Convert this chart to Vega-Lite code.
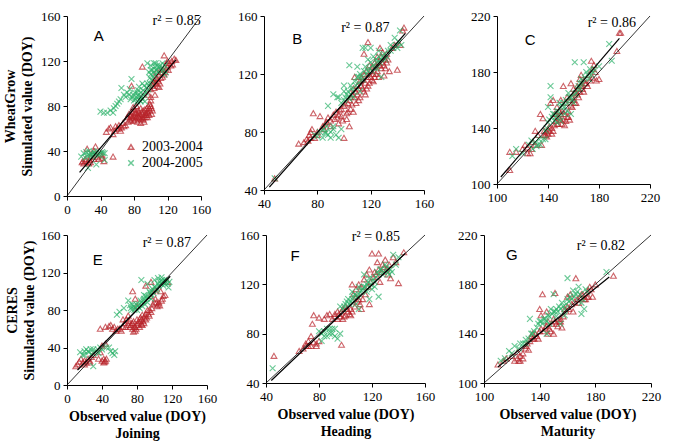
{
"$schema":"https://vega.github.io/schema/vega-lite/v6.json",
"padding":{"left":3,"top":10,"right":5,"bottom":3},
"background":"white",
"datasets":{
"A":[
{"x":18,"y":30,"s":"a"},{"x":20,"y":29,"s":"a"},{"x":22,"y":31,"s":"a"},{"x":24,"y":42,"s":"a"},{"x":25,"y":30,"s":"a"},{"x":27,"y":32,"s":"a"},{"x":28,"y":35,"s":"a"},{"x":30,"y":38,"s":"a"},{"x":32,"y":40,"s":"a"},{"x":34,"y":44,"s":"a"},{"x":36,"y":35,"s":"a"},{"x":38,"y":33,"s":"a"},{"x":40,"y":37,"s":"a"},{"x":42,"y":36,"s":"a"},{"x":44,"y":31,"s":"a"},{"x":22,"y":33,"s":"a"},{"x":26,"y":29,"s":"a"},{"x":19,"y":31,"s":"a"},{"x":55,"y":35,"s":"a"},
{"x":47,"y":57,"s":"a"},{"x":50,"y":60,"s":"a"},{"x":52,"y":61,"s":"a"},{"x":55,"y":55,"s":"a"},{"x":57,"y":58,"s":"a"},{"x":60,"y":60,"s":"a"},{"x":62,"y":63,"s":"a"},{"x":65,"y":61,"s":"a"},{"x":67,"y":65,"s":"a"},{"x":68,"y":62,"s":"a"},{"x":70,"y":63,"s":"a"},
{"x":72,"y":70,"s":"a"},{"x":74,"y":73,"s":"a"},{"x":75,"y":68,"s":"a"},{"x":77,"y":72,"s":"a"},{"x":78,"y":75,"s":"a"},{"x":80,"y":71,"s":"a"},{"x":81,"y":74,"s":"a"},{"x":82,"y":68,"s":"a"},{"x":84,"y":73,"s":"a"},{"x":85,"y":76,"s":"a"},{"x":86,"y":70,"s":"a"},{"x":87,"y":72,"s":"a"},{"x":88,"y":78,"s":"a"},{"x":89,"y":68,"s":"a"},{"x":90,"y":73,"s":"a"},{"x":91,"y":76,"s":"a"},{"x":92,"y":70,"s":"a"},{"x":93,"y":72,"s":"a"},{"x":94,"y":74,"s":"a"},{"x":95,"y":78,"s":"a"},{"x":96,"y":75,"s":"a"},{"x":97,"y":80,"s":"a"},{"x":98,"y":72,"s":"a"},{"x":99,"y":82,"s":"a"},{"x":100,"y":85,"s":"a"},{"x":101,"y":78,"s":"a"},{"x":102,"y":76,"s":"a"},{"x":83,"y":80,"s":"a"},{"x":79,"y":79,"s":"a"},{"x":76,"y":67,"s":"a"},{"x":92,"y":66,"s":"a"},{"x":88,"y":65,"s":"a"},
{"x":97,"y":90,"s":"a"},{"x":100,"y":95,"s":"a"},{"x":102,"y":98,"s":"a"},{"x":104,"y":96,"s":"a"},{"x":105,"y":103,"s":"a"},{"x":106,"y":100,"s":"a"},{"x":108,"y":104,"s":"a"},{"x":110,"y":108,"s":"a"},{"x":112,"y":105,"s":"a"},{"x":113,"y":110,"s":"a"},{"x":115,"y":112,"s":"a"},{"x":116,"y":108,"s":"a"},{"x":118,"y":113,"s":"a"},{"x":120,"y":115,"s":"a"},{"x":122,"y":118,"s":"a"},{"x":125,"y":120,"s":"a"},{"x":128,"y":122,"s":"a"},{"x":130,"y":121,"s":"a"},{"x":116,"y":125,"s":"a"},{"x":110,"y":97,"s":"a"},{"x":105,"y":90,"s":"a"},{"x":103,"y":100,"s":"a"},{"x":107,"y":110,"s":"a"},{"x":90,"y":115,"s":"a"},{"x":77,"y":98,"s":"a"},
{"x":73,"y":66,"s":"a"},{"x":76,"y":71,"s":"a"},{"x":79,"y":69,"s":"a"},{"x":81,"y":77,"s":"a"},{"x":83,"y":70,"s":"a"},{"x":84,"y":66,"s":"a"},{"x":86,"y":74,"s":"a"},{"x":87,"y":69,"s":"a"},{"x":89,"y":75,"s":"a"},{"x":90,"y":70,"s":"a"},{"x":91,"y":68,"s":"a"},{"x":93,"y":77,"s":"a"},{"x":94,"y":70,"s":"a"},{"x":95,"y":72,"s":"a"},{"x":96,"y":70,"s":"a"},{"x":97,"y":74,"s":"a"},{"x":98,"y":78,"s":"a"},{"x":100,"y":80,"s":"a"},{"x":101,"y":73,"s":"a"},{"x":99,"y":76,"s":"a"},{"x":85,"y":71,"s":"a"},{"x":82,"y":74,"s":"a"},{"x":78,"y":70,"s":"a"},{"x":80,"y":67,"s":"a"},{"x":103,"y":102,"s":"a"},{"x":106,"y":105,"s":"a"},{"x":109,"y":102,"s":"a"},{"x":111,"y":100,"s":"a"},{"x":114,"y":106,"s":"a"},{"x":117,"y":110,"s":"a"},{"x":119,"y":118,"s":"a"},{"x":121,"y":112,"s":"a"},{"x":124,"y":116,"s":"a"},{"x":112,"y":113,"s":"a"},{"x":108,"y":98,"s":"a"},{"x":100,"y":88,"s":"a"},{"x":62,"y":60,"s":"a"},{"x":58,"y":62,"s":"a"},{"x":64,"y":58,"s":"a"},{"x":28,"y":30,"s":"a"},{"x":32,"y":33,"s":"a"},{"x":42,"y":34,"s":"a"},{"x":120,"y":120,"s":"a"},{"x":126,"y":117,"s":"a"},
{"x":17,"y":35,"s":"b"},{"x":20,"y":38,"s":"b"},{"x":24,"y":36,"s":"b"},{"x":26,"y":40,"s":"b"},{"x":28,"y":38,"s":"b"},{"x":30,"y":37,"s":"b"},{"x":32,"y":39,"s":"b"},{"x":34,"y":38,"s":"b"},{"x":36,"y":40,"s":"b"},{"x":38,"y":37,"s":"b"},{"x":40,"y":38,"s":"b"},{"x":42,"y":39,"s":"b"},{"x":45,"y":38,"s":"b"},{"x":25,"y":25,"s":"b"},{"x":35,"y":28,"s":"b"},{"x":22,"y":34,"s":"b"},{"x":30,"y":35,"s":"b"},
{"x":40,"y":75,"s":"b"},{"x":44,"y":74,"s":"b"},{"x":48,"y":74,"s":"b"},{"x":52,"y":76,"s":"b"},{"x":56,"y":78,"s":"b"},{"x":60,"y":82,"s":"b"},{"x":62,"y":84,"s":"b"},{"x":65,"y":96,"s":"b"},{"x":68,"y":90,"s":"b"},{"x":70,"y":88,"s":"b"},{"x":72,"y":92,"s":"b"},{"x":75,"y":95,"s":"b"},{"x":77,"y":104,"s":"b"},{"x":78,"y":88,"s":"b"},{"x":80,"y":85,"s":"b"},{"x":82,"y":86,"s":"b"},{"x":84,"y":84,"s":"b"},{"x":85,"y":90,"s":"b"},{"x":86,"y":88,"s":"b"},{"x":88,"y":92,"s":"b"},{"x":90,"y":86,"s":"b"},{"x":92,"y":90,"s":"b"},{"x":93,"y":84,"s":"b"},{"x":95,"y":96,"s":"b"},{"x":96,"y":100,"s":"b"},{"x":98,"y":98,"s":"b"},{"x":99,"y":105,"s":"b"},{"x":100,"y":108,"s":"b"},{"x":102,"y":112,"s":"b"},{"x":104,"y":110,"s":"b"},{"x":105,"y":115,"s":"b"},{"x":106,"y":112,"s":"b"},{"x":108,"y":116,"s":"b"},{"x":110,"y":114,"s":"b"},{"x":112,"y":112,"s":"b"},{"x":114,"y":118,"s":"b"},{"x":116,"y":108,"s":"b"},{"x":118,"y":110,"s":"b"},{"x":96,"y":118,"s":"b"},{"x":100,"y":112,"s":"b"},{"x":86,"y":97,"s":"b"},{"x":90,"y":100,"s":"b"},
{"x":74,"y":90,"s":"b"},{"x":76,"y":86,"s":"b"},{"x":79,"y":90,"s":"b"},{"x":81,"y":92,"s":"b"},{"x":83,"y":88,"s":"b"},{"x":85,"y":94,"s":"b"},{"x":87,"y":85,"s":"b"},{"x":89,"y":88,"s":"b"},{"x":91,"y":94,"s":"b"},{"x":94,"y":92,"s":"b"},{"x":97,"y":95,"s":"b"},{"x":99,"y":100,"s":"b"},{"x":101,"y":103,"s":"b"},{"x":103,"y":106,"s":"b"},{"x":105,"y":108,"s":"b"},{"x":107,"y":112,"s":"b"},{"x":109,"y":110,"s":"b"},{"x":111,"y":116,"s":"b"},{"x":113,"y":114,"s":"b"},{"x":115,"y":112,"s":"b"},{"x":117,"y":116,"s":"b"},{"x":104,"y":118,"s":"b"},{"x":106,"y":118,"s":"b"},{"x":100,"y":116,"s":"b"},{"x":98,"y":110,"s":"b"},{"x":92,"y":98,"s":"b"},{"x":88,"y":84,"s":"b"},{"x":84,"y":92,"s":"b"},{"x":27,"y":36,"s":"b"},{"x":33,"y":37,"s":"b"},{"x":37,"y":36,"s":"b"},{"x":43,"y":38,"s":"b"},{"x":23,"y":39,"s":"b"},{"x":45,"y":32,"s":"b"},{"x":55,"y":74,"s":"b"},{"x":58,"y":80,"s":"b"},{"x":64,"y":86,"s":"b"}
],
"B":[
{"x":48,"y":48,"s":"a"},{"x":66,"y":72,"s":"a"},{"x":70,"y":73,"s":"a"},{"x":72,"y":75,"s":"a"},{"x":74,"y":78,"s":"a"},{"x":75,"y":80,"s":"a"},{"x":76,"y":82,"s":"a"},{"x":77,"y":93,"s":"a"},{"x":78,"y":76,"s":"a"},{"x":80,"y":78,"s":"a"},{"x":82,"y":91,"s":"a"},{"x":85,"y":82,"s":"a"},{"x":87,"y":87,"s":"a"},{"x":88,"y":90,"s":"a"},{"x":90,"y":84,"s":"a"},{"x":92,"y":92,"s":"a"},{"x":93,"y":89,"s":"a"},{"x":95,"y":90,"s":"a"},{"x":96,"y":86,"s":"a"},{"x":97,"y":95,"s":"a"},{"x":98,"y":96,"s":"a"},{"x":99,"y":88,"s":"a"},{"x":100,"y":98,"s":"a"},{"x":100,"y":76,"s":"a"},{"x":102,"y":93,"s":"a"},{"x":103,"y":100,"s":"a"},{"x":104,"y":102,"s":"a"},{"x":105,"y":96,"s":"a"},{"x":106,"y":106,"s":"a"},{"x":107,"y":94,"s":"a"},{"x":108,"y":104,"s":"a"},{"x":109,"y":108,"s":"a"},{"x":110,"y":112,"s":"a"},{"x":111,"y":102,"s":"a"},{"x":112,"y":115,"s":"a"},{"x":113,"y":118,"s":"a"},{"x":114,"y":110,"s":"a"},{"x":115,"y":120,"s":"a"},{"x":116,"y":106,"s":"a"},{"x":117,"y":122,"s":"a"},{"x":118,"y":112,"s":"a"},{"x":119,"y":126,"s":"a"},{"x":120,"y":118,"s":"a"},{"x":121,"y":125,"s":"a"},{"x":122,"y":115,"s":"a"},{"x":123,"y":128,"s":"a"},{"x":124,"y":120,"s":"a"},{"x":125,"y":132,"s":"a"},{"x":126,"y":118,"s":"a"},{"x":127,"y":138,"s":"a"},{"x":128,"y":124,"s":"a"},{"x":129,"y":135,"s":"a"},{"x":130,"y":119,"s":"a"},{"x":131,"y":130,"s":"a"},{"x":132,"y":128,"s":"a"},{"x":134,"y":122,"s":"a"},{"x":136,"y":138,"s":"a"},{"x":138,"y":140,"s":"a"},{"x":140,"y":123,"s":"a"},{"x":142,"y":140,"s":"a"},{"x":144,"y":150,"s":"a"},{"x":145,"y":152,"s":"a"},{"x":118,"y":142,"s":"a"},{"x":115,"y":134,"s":"a"},{"x":108,"y":118,"s":"a"},{"x":104,"y":84,"s":"a"},
{"x":101,"y":99,"s":"a"},{"x":103,"y":94,"s":"a"},{"x":105,"y":104,"s":"a"},{"x":106,"y":99,"s":"a"},{"x":107,"y":110,"s":"a"},{"x":109,"y":100,"s":"a"},{"x":110,"y":106,"s":"a"},{"x":111,"y":110,"s":"a"},{"x":112,"y":104,"s":"a"},{"x":113,"y":112,"s":"a"},{"x":114,"y":116,"s":"a"},{"x":115,"y":108,"s":"a"},{"x":116,"y":114,"s":"a"},{"x":117,"y":110,"s":"a"},{"x":118,"y":118,"s":"a"},{"x":119,"y":114,"s":"a"},{"x":120,"y":122,"s":"a"},{"x":121,"y":116,"s":"a"},{"x":122,"y":120,"s":"a"},{"x":123,"y":118,"s":"a"},{"x":124,"y":126,"s":"a"},{"x":125,"y":122,"s":"a"},{"x":126,"y":128,"s":"a"},{"x":127,"y":126,"s":"a"},{"x":128,"y":132,"s":"a"},{"x":129,"y":128,"s":"a"},{"x":130,"y":126,"s":"a"},{"x":131,"y":124,"s":"a"},{"x":132,"y":134,"s":"a"},{"x":133,"y":130,"s":"a"},{"x":96,"y":92,"s":"a"},{"x":94,"y":94,"s":"a"},{"x":90,"y":88,"s":"a"},{"x":86,"y":86,"s":"a"},{"x":84,"y":84,"s":"a"},{"x":80,"y":80,"s":"a"},{"x":75,"y":76,"s":"a"},{"x":73,"y":74,"s":"a"},{"x":98,"y":91,"s":"a"},{"x":102,"y":89,"s":"a"},
{"x":48,"y":48,"s":"b"},{"x":78,"y":78,"s":"b"},{"x":80,"y":77,"s":"b"},{"x":82,"y":80,"s":"b"},{"x":84,"y":76,"s":"b"},{"x":85,"y":82,"s":"b"},{"x":86,"y":79,"s":"b"},{"x":88,"y":78,"s":"b"},{"x":90,"y":80,"s":"b"},{"x":92,"y":84,"s":"b"},{"x":94,"y":78,"s":"b"},{"x":96,"y":76,"s":"b"},{"x":98,"y":82,"s":"b"},{"x":88,"y":98,"s":"b"},{"x":92,"y":106,"s":"b"},{"x":95,"y":104,"s":"b"},{"x":98,"y":100,"s":"b"},{"x":100,"y":108,"s":"b"},{"x":102,"y":106,"s":"b"},{"x":104,"y":103,"s":"b"},{"x":105,"y":112,"s":"b"},{"x":106,"y":110,"s":"b"},{"x":108,"y":115,"s":"b"},{"x":110,"y":118,"s":"b"},{"x":112,"y":120,"s":"b"},{"x":114,"y":116,"s":"b"},{"x":116,"y":125,"s":"b"},{"x":118,"y":122,"s":"b"},{"x":120,"y":128,"s":"b"},{"x":122,"y":126,"s":"b"},{"x":124,"y":130,"s":"b"},{"x":125,"y":124,"s":"b"},{"x":126,"y":132,"s":"b"},{"x":128,"y":130,"s":"b"},{"x":130,"y":134,"s":"b"},{"x":132,"y":132,"s":"b"},{"x":114,"y":138,"s":"b"},{"x":116,"y":138,"s":"b"},{"x":120,"y":138,"s":"b"},{"x":104,"y":126,"s":"b"},{"x":135,"y":140,"s":"b"},{"x":138,"y":145,"s":"b"},{"x":140,"y":138,"s":"b"},{"x":142,"y":150,"s":"b"},{"x":128,"y":118,"s":"b"},{"x":110,"y":125,"s":"b"},{"x":100,"y":112,"s":"b"},{"x":112,"y":108,"s":"b"},
{"x":101,"y":104,"s":"b"},{"x":103,"y":108,"s":"b"},{"x":105,"y":106,"s":"b"},{"x":107,"y":108,"s":"b"},{"x":109,"y":112,"s":"b"},{"x":111,"y":114,"s":"b"},{"x":113,"y":118,"s":"b"},{"x":115,"y":122,"s":"b"},{"x":117,"y":120,"s":"b"},{"x":119,"y":124,"s":"b"},{"x":121,"y":122,"s":"b"},{"x":123,"y":124,"s":"b"},{"x":125,"y":128,"s":"b"},{"x":127,"y":128,"s":"b"},{"x":129,"y":132,"s":"b"},{"x":131,"y":130,"s":"b"},{"x":133,"y":136,"s":"b"},{"x":135,"y":136,"s":"b"},{"x":137,"y":138,"s":"b"},{"x":139,"y":140,"s":"b"},{"x":141,"y":142,"s":"b"},{"x":143,"y":140,"s":"b"},{"x":107,"y":104,"s":"b"},{"x":111,"y":118,"s":"b"},{"x":118,"y":130,"s":"b"},{"x":122,"y":132,"s":"b"},{"x":126,"y":136,"s":"b"},{"x":86,"y":80,"s":"b"},{"x":90,"y":76,"s":"b"},{"x":92,"y":82,"s":"b"},{"x":87,"y":84,"s":"b"},{"x":96,"y":104,"s":"b"},{"x":100,"y":102,"s":"b"}
],
"C":[
{"x":110,"y":110,"s":"a"},{"x":110,"y":123,"s":"a"},{"x":115,"y":123,"s":"a"},{"x":120,"y":125,"s":"a"},{"x":122,"y":128,"s":"a"},{"x":124,"y":122,"s":"a"},{"x":126,"y":122,"s":"a"},{"x":128,"y":130,"s":"a"},{"x":130,"y":128,"s":"a"},{"x":132,"y":135,"s":"a"},{"x":134,"y":150,"s":"a"},{"x":135,"y":128,"s":"a"},{"x":136,"y":147,"s":"a"},{"x":137,"y":138,"s":"a"},{"x":138,"y":135,"s":"a"},{"x":139,"y":137,"s":"a"},{"x":140,"y":136,"s":"a"},{"x":141,"y":141,"s":"a"},{"x":142,"y":158,"s":"a"},{"x":143,"y":140,"s":"a"},{"x":144,"y":160,"s":"a"},{"x":145,"y":150,"s":"a"},{"x":146,"y":145,"s":"a"},{"x":147,"y":155,"s":"a"},{"x":148,"y":143,"s":"a"},{"x":149,"y":147,"s":"a"},{"x":150,"y":150,"s":"a"},{"x":151,"y":152,"s":"a"},{"x":152,"y":170,"s":"a"},{"x":153,"y":142,"s":"a"},{"x":154,"y":158,"s":"a"},{"x":155,"y":162,"s":"a"},{"x":156,"y":148,"s":"a"},{"x":157,"y":146,"s":"a"},{"x":158,"y":172,"s":"a"},{"x":159,"y":155,"s":"a"},{"x":160,"y":168,"s":"a"},{"x":161,"y":165,"s":"a"},{"x":162,"y":158,"s":"a"},{"x":163,"y":170,"s":"a"},{"x":164,"y":168,"s":"a"},{"x":165,"y":175,"s":"a"},{"x":166,"y":178,"s":"a"},{"x":167,"y":170,"s":"a"},{"x":168,"y":174,"s":"a"},{"x":170,"y":172,"s":"a"},{"x":172,"y":178,"s":"a"},{"x":174,"y":188,"s":"a"},{"x":175,"y":176,"s":"a"},{"x":176,"y":185,"s":"a"},{"x":178,"y":174,"s":"a"},{"x":180,"y":175,"s":"a"},{"x":194,"y":195,"s":"a"},{"x":196,"y":208,"s":"a"},{"x":197,"y":208,"s":"a"},{"x":130,"y":138,"s":"a"},{"x":150,"y":160,"s":"a"},
{"x":141,"y":138,"s":"a"},{"x":143,"y":136,"s":"a"},{"x":144,"y":138,"s":"a"},{"x":145,"y":142,"s":"a"},{"x":146,"y":150,"s":"a"},{"x":147,"y":143,"s":"a"},{"x":148,"y":148,"s":"a"},{"x":149,"y":152,"s":"a"},{"x":150,"y":146,"s":"a"},{"x":151,"y":143,"s":"a"},{"x":152,"y":146,"s":"a"},{"x":153,"y":150,"s":"a"},{"x":154,"y":145,"s":"a"},{"x":155,"y":148,"s":"a"},{"x":156,"y":152,"s":"a"},{"x":157,"y":160,"s":"a"},{"x":158,"y":156,"s":"a"},{"x":159,"y":162,"s":"a"},{"x":160,"y":160,"s":"a"},{"x":161,"y":158,"s":"a"},{"x":162,"y":166,"s":"a"},{"x":163,"y":164,"s":"a"},{"x":164,"y":162,"s":"a"},{"x":165,"y":166,"s":"a"},{"x":166,"y":170,"s":"a"},{"x":167,"y":168,"s":"a"},{"x":168,"y":166,"s":"a"},{"x":169,"y":172,"s":"a"},{"x":171,"y":170,"s":"a"},{"x":173,"y":174,"s":"a"},{"x":175,"y":182,"s":"a"},{"x":177,"y":180,"s":"a"},{"x":124,"y":126,"s":"a"},{"x":127,"y":125,"s":"a"},{"x":139,"y":134,"s":"a"},{"x":137,"y":135,"s":"a"},{"x":140,"y":139,"s":"a"},
{"x":112,"y":120,"s":"b"},{"x":115,"y":125,"s":"b"},{"x":125,"y":128,"s":"b"},{"x":128,"y":125,"s":"b"},{"x":130,"y":130,"s":"b"},{"x":132,"y":128,"s":"b"},{"x":134,"y":128,"s":"b"},{"x":136,"y":132,"s":"b"},{"x":138,"y":138,"s":"b"},{"x":140,"y":144,"s":"b"},{"x":142,"y":170,"s":"b"},{"x":142,"y":162,"s":"b"},{"x":140,"y":155,"s":"b"},{"x":144,"y":150,"s":"b"},{"x":145,"y":145,"s":"b"},{"x":146,"y":148,"s":"b"},{"x":148,"y":152,"s":"b"},{"x":150,"y":155,"s":"b"},{"x":152,"y":158,"s":"b"},{"x":154,"y":160,"s":"b"},{"x":155,"y":152,"s":"b"},{"x":156,"y":165,"s":"b"},{"x":158,"y":162,"s":"b"},{"x":160,"y":158,"s":"b"},{"x":161,"y":187,"s":"b"},{"x":162,"y":165,"s":"b"},{"x":164,"y":170,"s":"b"},{"x":165,"y":168,"s":"b"},{"x":166,"y":175,"s":"b"},{"x":168,"y":187,"s":"b"},{"x":170,"y":180,"s":"b"},{"x":172,"y":175,"s":"b"},{"x":174,"y":178,"s":"b"},{"x":176,"y":182,"s":"b"},{"x":180,"y":184,"s":"b"},{"x":188,"y":200,"s":"b"},{"x":190,"y":188,"s":"b"},{"x":150,"y":145,"s":"b"},{"x":158,"y":150,"s":"b"},
{"x":138,"y":132,"s":"b"},{"x":139,"y":140,"s":"b"},{"x":141,"y":146,"s":"b"},{"x":143,"y":148,"s":"b"},{"x":145,"y":150,"s":"b"},{"x":147,"y":152,"s":"b"},{"x":149,"y":148,"s":"b"},{"x":151,"y":156,"s":"b"},{"x":153,"y":155,"s":"b"},{"x":155,"y":158,"s":"b"},{"x":157,"y":162,"s":"b"},{"x":159,"y":160,"s":"b"},{"x":161,"y":164,"s":"b"},{"x":163,"y":168,"s":"b"},{"x":165,"y":172,"s":"b"},{"x":167,"y":172,"s":"b"},{"x":169,"y":176,"s":"b"},{"x":171,"y":178,"s":"b"},{"x":173,"y":182,"s":"b"},{"x":175,"y":180,"s":"b"},{"x":149,"y":158,"s":"b"},{"x":147,"y":144,"s":"b"},{"x":153,"y":150,"s":"b"},{"x":131,"y":127,"s":"b"},{"x":133,"y":132,"s":"b"},{"x":120,"y":122,"s":"b"},{"x":127,"y":131,"s":"b"}
],
"E":[
{"x":10,"y":20,"s":"a"},{"x":12,"y":22,"s":"a"},{"x":14,"y":25,"s":"a"},{"x":16,"y":28,"s":"a"},{"x":18,"y":24,"s":"a"},{"x":20,"y":26,"s":"a"},{"x":22,"y":24,"s":"a"},{"x":24,"y":28,"s":"a"},{"x":26,"y":26,"s":"a"},{"x":28,"y":30,"s":"a"},{"x":30,"y":32,"s":"a"},{"x":36,"y":28,"s":"a"},{"x":38,"y":35,"s":"a"},{"x":40,"y":26,"s":"a"},{"x":42,"y":24,"s":"a"},{"x":44,"y":26,"s":"a"},{"x":45,"y":28,"s":"a"},{"x":40,"y":42,"s":"a"},{"x":44,"y":44,"s":"a"},{"x":38,"y":60,"s":"a"},{"x":44,"y":62,"s":"a"},{"x":50,"y":64,"s":"a"},{"x":54,"y":62,"s":"a"},{"x":56,"y":58,"s":"a"},{"x":60,"y":60,"s":"a"},{"x":62,"y":58,"s":"a"},{"x":64,"y":62,"s":"a"},{"x":66,"y":66,"s":"a"},{"x":68,"y":70,"s":"a"},{"x":70,"y":64,"s":"a"},{"x":72,"y":62,"s":"a"},{"x":74,"y":66,"s":"a"},{"x":75,"y":60,"s":"a"},{"x":76,"y":68,"s":"a"},{"x":78,"y":62,"s":"a"},{"x":80,"y":70,"s":"a"},{"x":82,"y":68,"s":"a"},{"x":84,"y":72,"s":"a"},{"x":85,"y":65,"s":"a"},{"x":86,"y":75,"s":"a"},{"x":88,"y":72,"s":"a"},{"x":90,"y":76,"s":"a"},{"x":92,"y":80,"s":"a"},{"x":94,"y":74,"s":"a"},{"x":95,"y":95,"s":"a"},{"x":96,"y":110,"s":"a"},{"x":98,"y":100,"s":"a"},{"x":100,"y":102,"s":"a"},{"x":102,"y":88,"s":"a"},{"x":104,"y":86,"s":"a"},{"x":106,"y":85,"s":"a"},{"x":108,"y":90,"s":"a"},{"x":110,"y":95,"s":"a"},{"x":75,"y":100,"s":"a"},{"x":78,"y":92,"s":"a"},{"x":80,"y":84,"s":"a"},{"x":90,"y":106,"s":"a"},{"x":115,"y":110,"s":"a"},{"x":112,"y":96,"s":"a"},{"x":70,"y":74,"s":"a"},{"x":64,"y":70,"s":"a"},
{"x":73,"y":64,"s":"a"},{"x":75,"y":66,"s":"a"},{"x":77,"y":62,"s":"a"},{"x":79,"y":60,"s":"a"},{"x":80,"y":64,"s":"a"},{"x":81,"y":66,"s":"a"},{"x":83,"y":62,"s":"a"},{"x":84,"y":68,"s":"a"},{"x":85,"y":70,"s":"a"},{"x":86,"y":64,"s":"a"},{"x":87,"y":68,"s":"a"},{"x":88,"y":66,"s":"a"},{"x":89,"y":74,"s":"a"},{"x":90,"y":70,"s":"a"},{"x":91,"y":72,"s":"a"},{"x":93,"y":76,"s":"a"},{"x":94,"y":80,"s":"a"},{"x":96,"y":78,"s":"a"},{"x":97,"y":82,"s":"a"},{"x":98,"y":86,"s":"a"},{"x":100,"y":88,"s":"a"},{"x":101,"y":92,"s":"a"},{"x":103,"y":84,"s":"a"},{"x":105,"y":88,"s":"a"},{"x":107,"y":100,"s":"a"},{"x":109,"y":92,"s":"a"},{"x":76,"y":57,"s":"a"},{"x":78,"y":58,"s":"a"},{"x":71,"y":68,"s":"a"},{"x":67,"y":62,"s":"a"},{"x":58,"y":60,"s":"a"},{"x":52,"y":60,"s":"a"},{"x":48,"y":63,"s":"a"},{"x":20,"y":22,"s":"a"},{"x":26,"y":24,"s":"a"},{"x":42,"y":28,"s":"a"},{"x":43,"y":25,"s":"a"},
{"x":15,"y":35,"s":"b"},{"x":18,"y":32,"s":"b"},{"x":20,"y":36,"s":"b"},{"x":22,"y":38,"s":"b"},{"x":25,"y":35,"s":"b"},{"x":28,"y":33,"s":"b"},{"x":30,"y":20,"s":"b"},{"x":30,"y":38,"s":"b"},{"x":34,"y":36,"s":"b"},{"x":36,"y":34,"s":"b"},{"x":38,"y":40,"s":"b"},{"x":40,"y":38,"s":"b"},{"x":48,"y":40,"s":"b"},{"x":50,"y":36,"s":"b"},{"x":52,"y":34,"s":"b"},{"x":55,"y":36,"s":"b"},{"x":57,"y":75,"s":"b"},{"x":60,"y":78,"s":"b"},{"x":65,"y":82,"s":"b"},{"x":70,"y":90,"s":"b"},{"x":72,"y":85,"s":"b"},{"x":74,"y":80,"s":"b"},{"x":76,"y":84,"s":"b"},{"x":78,"y":82,"s":"b"},{"x":80,"y":80,"s":"b"},{"x":82,"y":86,"s":"b"},{"x":84,"y":90,"s":"b"},{"x":85,"y":112,"s":"b"},{"x":86,"y":84,"s":"b"},{"x":88,"y":92,"s":"b"},{"x":90,"y":95,"s":"b"},{"x":92,"y":88,"s":"b"},{"x":94,"y":100,"s":"b"},{"x":96,"y":96,"s":"b"},{"x":98,"y":102,"s":"b"},{"x":100,"y":105,"s":"b"},{"x":102,"y":100,"s":"b"},{"x":104,"y":108,"s":"b"},{"x":106,"y":110,"s":"b"},{"x":108,"y":112,"s":"b"},{"x":110,"y":106,"s":"b"},{"x":112,"y":108,"s":"b"},{"x":114,"y":112,"s":"b"},{"x":116,"y":104,"s":"b"},{"x":92,"y":108,"s":"b"},{"x":100,"y":112,"s":"b"},
{"x":73,"y":82,"s":"b"},{"x":75,"y":86,"s":"b"},{"x":77,"y":80,"s":"b"},{"x":79,"y":86,"s":"b"},{"x":81,"y":84,"s":"b"},{"x":83,"y":82,"s":"b"},{"x":85,"y":88,"s":"b"},{"x":87,"y":90,"s":"b"},{"x":89,"y":86,"s":"b"},{"x":91,"y":92,"s":"b"},{"x":93,"y":94,"s":"b"},{"x":95,"y":98,"s":"b"},{"x":97,"y":100,"s":"b"},{"x":99,"y":98,"s":"b"},{"x":101,"y":104,"s":"b"},{"x":103,"y":102,"s":"b"},{"x":105,"y":106,"s":"b"},{"x":107,"y":108,"s":"b"},{"x":109,"y":110,"s":"b"},{"x":111,"y":112,"s":"b"},{"x":113,"y":110,"s":"b"},{"x":115,"y":108,"s":"b"},{"x":117,"y":110,"s":"b"},{"x":104,"y":114,"s":"b"},{"x":108,"y":115,"s":"b"},{"x":96,"y":92,"s":"b"},{"x":88,"y":96,"s":"b"},{"x":20,"y":32,"s":"b"},{"x":24,"y":36,"s":"b"},{"x":27,"y":38,"s":"b"},{"x":32,"y":35,"s":"b"},{"x":35,"y":38,"s":"b"},{"x":45,"y":40,"s":"b"},{"x":54,"y":32,"s":"b"}
],
"F":[
{"x":46,"y":62,"s":"a"},{"x":65,"y":66,"s":"a"},{"x":68,"y":68,"s":"a"},{"x":70,"y":72,"s":"a"},{"x":72,"y":70,"s":"a"},{"x":74,"y":78,"s":"a"},{"x":75,"y":88,"s":"a"},{"x":76,"y":95,"s":"a"},{"x":78,"y":72,"s":"a"},{"x":80,"y":74,"s":"a"},{"x":80,"y":93,"s":"a"},{"x":84,"y":92,"s":"a"},{"x":86,"y":95,"s":"a"},{"x":88,"y":96,"s":"a"},{"x":90,"y":92,"s":"a"},{"x":92,"y":96,"s":"a"},{"x":94,"y":98,"s":"a"},{"x":96,"y":94,"s":"a"},{"x":97,"y":71,"s":"a"},{"x":98,"y":100,"s":"a"},{"x":100,"y":102,"s":"a"},{"x":102,"y":98,"s":"a"},{"x":104,"y":100,"s":"a"},{"x":106,"y":112,"s":"a"},{"x":108,"y":110,"s":"a"},{"x":110,"y":108,"s":"a"},{"x":112,"y":118,"s":"a"},{"x":114,"y":124,"s":"a"},{"x":116,"y":128,"s":"a"},{"x":118,"y":132,"s":"a"},{"x":120,"y":145,"s":"a"},{"x":122,"y":130,"s":"a"},{"x":124,"y":138,"s":"a"},{"x":125,"y":145,"s":"a"},{"x":126,"y":122,"s":"a"},{"x":128,"y":136,"s":"a"},{"x":130,"y":140,"s":"a"},{"x":132,"y":128,"s":"a"},{"x":134,"y":125,"s":"a"},{"x":136,"y":142,"s":"a"},{"x":138,"y":138,"s":"a"},{"x":140,"y":121,"s":"a"},{"x":144,"y":146,"s":"a"},{"x":118,"y":104,"s":"a"},{"x":112,"y":100,"s":"a"},{"x":100,"y":95,"s":"a"},{"x":105,"y":120,"s":"a"},
{"x":95,"y":96,"s":"a"},{"x":97,"y":98,"s":"a"},{"x":99,"y":94,"s":"a"},{"x":101,"y":100,"s":"a"},{"x":103,"y":96,"s":"a"},{"x":105,"y":98,"s":"a"},{"x":107,"y":102,"s":"a"},{"x":109,"y":106,"s":"a"},{"x":111,"y":104,"s":"a"},{"x":113,"y":108,"s":"a"},{"x":115,"y":112,"s":"a"},{"x":117,"y":118,"s":"a"},{"x":119,"y":122,"s":"a"},{"x":121,"y":126,"s":"a"},{"x":123,"y":128,"s":"a"},{"x":125,"y":132,"s":"a"},{"x":127,"y":130,"s":"a"},{"x":129,"y":134,"s":"a"},{"x":131,"y":132,"s":"a"},{"x":133,"y":136,"s":"a"},{"x":108,"y":116,"s":"a"},{"x":110,"y":120,"s":"a"},{"x":104,"y":95,"s":"a"},{"x":98,"y":92,"s":"a"},{"x":94,"y":92,"s":"a"},{"x":92,"y":94,"s":"a"},{"x":70,"y":70,"s":"a"},{"x":72,"y":74,"s":"a"},{"x":74,"y":70,"s":"a"},{"x":76,"y":73,"s":"a"},{"x":78,"y":70,"s":"a"},
{"x":45,"y":52,"s":"b"},{"x":80,"y":82,"s":"b"},{"x":82,"y":74,"s":"b"},{"x":84,"y":78,"s":"b"},{"x":86,"y":84,"s":"b"},{"x":88,"y":80,"s":"b"},{"x":90,"y":84,"s":"b"},{"x":92,"y":78,"s":"b"},{"x":94,"y":76,"s":"b"},{"x":96,"y":80,"s":"b"},{"x":98,"y":100,"s":"b"},{"x":100,"y":104,"s":"b"},{"x":102,"y":108,"s":"b"},{"x":104,"y":106,"s":"b"},{"x":106,"y":110,"s":"b"},{"x":108,"y":104,"s":"b"},{"x":110,"y":112,"s":"b"},{"x":112,"y":115,"s":"b"},{"x":114,"y":118,"s":"b"},{"x":116,"y":120,"s":"b"},{"x":118,"y":125,"s":"b"},{"x":120,"y":116,"s":"b"},{"x":122,"y":122,"s":"b"},{"x":124,"y":130,"s":"b"},{"x":126,"y":132,"s":"b"},{"x":128,"y":128,"s":"b"},{"x":130,"y":136,"s":"b"},{"x":132,"y":130,"s":"b"},{"x":134,"y":132,"s":"b"},{"x":136,"y":144,"s":"b"},{"x":140,"y":142,"s":"b"},{"x":125,"y":110,"s":"b"},{"x":118,"y":108,"s":"b"},{"x":110,"y":100,"s":"b"},{"x":96,"y":102,"s":"b"},{"x":114,"y":128,"s":"b"},
{"x":99,"y":102,"s":"b"},{"x":101,"y":106,"s":"b"},{"x":103,"y":104,"s":"b"},{"x":105,"y":108,"s":"b"},{"x":107,"y":112,"s":"b"},{"x":109,"y":110,"s":"b"},{"x":111,"y":114,"s":"b"},{"x":113,"y":116,"s":"b"},{"x":115,"y":118,"s":"b"},{"x":117,"y":122,"s":"b"},{"x":119,"y":120,"s":"b"},{"x":121,"y":124,"s":"b"},{"x":123,"y":126,"s":"b"},{"x":125,"y":128,"s":"b"},{"x":127,"y":132,"s":"b"},{"x":129,"y":130,"s":"b"},{"x":131,"y":134,"s":"b"},{"x":133,"y":128,"s":"b"},{"x":135,"y":130,"s":"b"},{"x":138,"y":136,"s":"b"},{"x":105,"y":114,"s":"b"},{"x":110,"y":118,"s":"b"},{"x":116,"y":114,"s":"b"},{"x":122,"y":118,"s":"b"},{"x":86,"y":78,"s":"b"},{"x":88,"y":84,"s":"b"},{"x":90,"y":80,"s":"b"},{"x":84,"y":82,"s":"b"},{"x":92,"y":84,"s":"b"},{"x":82,"y":80,"s":"b"}
],
"G":[
{"x":110,"y":115,"s":"a"},{"x":114,"y":118,"s":"a"},{"x":116,"y":120,"s":"a"},{"x":120,"y":122,"s":"a"},{"x":122,"y":118,"s":"a"},{"x":124,"y":125,"s":"a"},{"x":125,"y":118,"s":"a"},{"x":126,"y":122,"s":"a"},{"x":128,"y":120,"s":"a"},{"x":130,"y":128,"s":"a"},{"x":132,"y":127,"s":"a"},{"x":134,"y":138,"s":"a"},{"x":135,"y":140,"s":"a"},{"x":136,"y":136,"s":"a"},{"x":138,"y":138,"s":"a"},{"x":140,"y":142,"s":"a"},{"x":141,"y":155,"s":"a"},{"x":142,"y":172,"s":"a"},{"x":144,"y":145,"s":"a"},{"x":145,"y":158,"s":"a"},{"x":146,"y":140,"s":"a"},{"x":148,"y":142,"s":"a"},{"x":150,"y":140,"s":"a"},{"x":151,"y":173,"s":"a"},{"x":152,"y":148,"s":"a"},{"x":154,"y":150,"s":"a"},{"x":155,"y":152,"s":"a"},{"x":156,"y":145,"s":"a"},{"x":158,"y":160,"s":"a"},{"x":160,"y":162,"s":"a"},{"x":162,"y":172,"s":"a"},{"x":164,"y":158,"s":"a"},{"x":166,"y":185,"s":"a"},{"x":168,"y":165,"s":"a"},{"x":170,"y":172,"s":"a"},{"x":172,"y":168,"s":"a"},{"x":174,"y":170,"s":"a"},{"x":175,"y":175,"s":"a"},{"x":176,"y":178,"s":"a"},{"x":178,"y":170,"s":"a"},{"x":180,"y":180,"s":"a"},{"x":193,"y":187,"s":"a"},{"x":130,"y":130,"s":"a"},{"x":140,"y":160,"s":"a"},
{"x":131,"y":132,"s":"a"},{"x":133,"y":134,"s":"a"},{"x":135,"y":136,"s":"a"},{"x":137,"y":140,"s":"a"},{"x":139,"y":136,"s":"a"},{"x":141,"y":144,"s":"a"},{"x":143,"y":142,"s":"a"},{"x":145,"y":146,"s":"a"},{"x":147,"y":144,"s":"a"},{"x":149,"y":148,"s":"a"},{"x":151,"y":150,"s":"a"},{"x":153,"y":146,"s":"a"},{"x":155,"y":150,"s":"a"},{"x":157,"y":154,"s":"a"},{"x":159,"y":158,"s":"a"},{"x":161,"y":160,"s":"a"},{"x":163,"y":164,"s":"a"},{"x":165,"y":166,"s":"a"},{"x":167,"y":168,"s":"a"},{"x":169,"y":170,"s":"a"},{"x":171,"y":172,"s":"a"},{"x":173,"y":168,"s":"a"},{"x":175,"y":170,"s":"a"},{"x":177,"y":176,"s":"a"},{"x":124,"y":120,"s":"a"},{"x":126,"y":118,"s":"a"},{"x":128,"y":124,"s":"a"},{"x":146,"y":150,"s":"a"},{"x":150,"y":152,"s":"a"},{"x":160,"y":170,"s":"a"},
{"x":112,"y":118,"s":"b"},{"x":118,"y":126,"s":"b"},{"x":122,"y":130,"s":"b"},{"x":125,"y":128,"s":"b"},{"x":128,"y":132,"s":"b"},{"x":130,"y":135,"s":"b"},{"x":133,"y":152,"s":"b"},{"x":135,"y":140,"s":"b"},{"x":138,"y":145,"s":"b"},{"x":140,"y":150,"s":"b"},{"x":142,"y":148,"s":"b"},{"x":144,"y":152,"s":"b"},{"x":146,"y":155,"s":"b"},{"x":148,"y":160,"s":"b"},{"x":150,"y":158,"s":"b"},{"x":152,"y":160,"s":"b"},{"x":154,"y":162,"s":"b"},{"x":156,"y":165,"s":"b"},{"x":158,"y":160,"s":"b"},{"x":160,"y":185,"s":"b"},{"x":160,"y":168,"s":"b"},{"x":162,"y":170,"s":"b"},{"x":164,"y":175,"s":"b"},{"x":166,"y":172,"s":"b"},{"x":168,"y":178,"s":"b"},{"x":170,"y":165,"s":"b"},{"x":170,"y":156,"s":"b"},{"x":172,"y":160,"s":"b"},{"x":174,"y":174,"s":"b"},{"x":188,"y":190,"s":"b"},{"x":150,"y":172,"s":"b"},{"x":145,"y":140,"s":"b"},{"x":155,"y":148,"s":"b"},
{"x":126,"y":132,"s":"b"},{"x":130,"y":132,"s":"b"},{"x":132,"y":136,"s":"b"},{"x":134,"y":140,"s":"b"},{"x":136,"y":142,"s":"b"},{"x":139,"y":148,"s":"b"},{"x":141,"y":150,"s":"b"},{"x":143,"y":152,"s":"b"},{"x":145,"y":150,"s":"b"},{"x":147,"y":154,"s":"b"},{"x":149,"y":156,"s":"b"},{"x":151,"y":158,"s":"b"},{"x":153,"y":158,"s":"b"},{"x":155,"y":160,"s":"b"},{"x":157,"y":162,"s":"b"},{"x":159,"y":164,"s":"b"},{"x":161,"y":166,"s":"b"},{"x":163,"y":168,"s":"b"},{"x":165,"y":170,"s":"b"},{"x":167,"y":174,"s":"b"},{"x":169,"y":172,"s":"b"},{"x":171,"y":168,"s":"b"},{"x":173,"y":176,"s":"b"},{"x":147,"y":148,"s":"b"},{"x":152,"y":154,"s":"b"},{"x":158,"y":155,"s":"b"},{"x":120,"y":124,"s":"b"},{"x":115,"y":120,"s":"b"}
],
"L":[
{"p":"A","x":0,"y":0,"x2":160,"y2":160,"w":0.8},{"p":"A","x":15,"y":21,"x2":130,"y2":121,"w":1.2},
{"p":"B","x":40,"y":40,"x2":160,"y2":160,"w":0.8},{"p":"B","x":44,"y":42,"x2":146,"y2":148,"w":1.3},
{"p":"C","x":100,"y":100,"x2":220,"y2":220,"w":0.8},{"p":"C","x":103,"y":105,"x2":196,"y2":204,"w":1.2},
{"p":"E","x":0,"y":0,"x2":160,"y2":160,"w":0.8},{"p":"E","x":12,"y":16,"x2":118,"y2":116,"w":1.2},
{"p":"F","x":40,"y":40,"x2":160,"y2":160,"w":0.8},{"p":"F","x":44,"y":42,"x2":145,"y2":145,"w":1.2},
{"p":"G","x":100,"y":100,"x2":220,"y2":220,"w":0.8},{"p":"G","x":110,"y":113,"x2":190,"y2":186,"w":1.2}
]
},
"vconcat":[
{"hconcat":[
{"width":134,"height":180,"layer":[
{"data":{"name":"A"},"mark":{"type":"point","filled":false,"size":34,"strokeWidth":1.1},"encoding":{
"x":{"field":"x","type":"quantitative","scale":{"domain":[0,160],"nice":false},"axis":{"values":[0,40,80,120,160],"tickCount":10,"title":null,"labelOverlap":false}},
"y":{"field":"y","type":"quantitative","scale":{"domain":[0,160],"nice":false},"axis":{"values":[0,40,80,120,160],"tickCount":10,"title":["WheatGrow","Simulated value (DOY)"],"titlePadding":6,"labelOverlap":false}},
"color":{"field":"s","type":"nominal","scale":{"domain":["a","b"],"range":["#B8232A","#2DB36B"]},"legend":{"orient":"none","legendX":57,"legendY":124,"title":null,"labelExpr":"datum.label == 'a' ? '2003-2004' : '2004-2005'","labelFont":"Liberation Serif","labelFontSize":14,"labelColor":"#000","symbolSize":30,"rowPadding":2}},
"shape":{"field":"s","type":"nominal","scale":{"domain":["a","b"],"range":["triangle-up","M-1,-1L1,1M1,-1L-1,1"]},"legend":{"orient":"none","legendX":57,"legendY":124,"title":null,"labelExpr":"datum.label == 'a' ? '2003-2004' : '2004-2005'","labelFont":"Liberation Serif","labelFontSize":14,"labelColor":"#000","symbolSize":30,"rowPadding":2}}}},
{"data":{"name":"L"},"transform":[{"filter":"datum.p == 'A'"}],"mark":{"type":"rule","color":"#000"},"encoding":{"x":{"field":"x","type":"quantitative"},"y":{"field":"y","type":"quantitative"},"x2":{"field":"x2"},"y2":{"field":"y2"},"strokeWidth":{"field":"w","type":"quantitative","scale":null,"legend":null}}},
{"data":{"values":[{"t":"A"}]},"mark":{"type":"text","font":"Liberation Sans","fontSize":15},"encoding":{"x":{"datum":38},"y":{"datum":142},"text":{"field":"t"}}},
{"data":{"values":[{"t":"r² = 0.85"}]},"mark":{"type":"text","font":"Liberation Serif","fontSize":14},"encoding":{"x":{"datum":131},"y":{"datum":156},"text":{"field":"t"}}}
]},
{"width":160,"height":174,"layer":[
{"data":{"name":"B"},"mark":{"type":"point","filled":false,"size":34,"strokeWidth":1.1},"encoding":{
"x":{"field":"x","type":"quantitative","scale":{"domain":[40,160],"nice":false},"axis":{"values":[40,80,120,160],"tickCount":10,"title":null,"labelOverlap":false}},
"y":{"field":"y","type":"quantitative","scale":{"domain":[40,160],"nice":false},"axis":{"values":[40,80,120,160],"tickCount":10,"title":null,"labelOverlap":false}},
"color":{"field":"s","type":"nominal","scale":{"domain":["a","b"],"range":["#B8232A","#2DB36B"]},"legend":null},
"shape":{"field":"s","type":"nominal","scale":{"domain":["a","b"],"range":["triangle-up","M-1,-1L1,1M1,-1L-1,1"]},"legend":null}}},
{"data":{"name":"L"},"transform":[{"filter":"datum.p == 'B'"}],"mark":{"type":"rule","color":"#000"},"encoding":{"x":{"field":"x","type":"quantitative"},"y":{"field":"y","type":"quantitative"},"x2":{"field":"x2"},"y2":{"field":"y2"},"strokeWidth":{"field":"w","type":"quantitative","scale":null,"legend":null}}},
{"data":{"values":[{"t":"B"}]},"mark":{"type":"text","font":"Liberation Sans","fontSize":15},"encoding":{"x":{"datum":65},"y":{"datum":144},"text":{"field":"t"}}},
{"data":{"values":[{"t":"r² = 0.87"}]},"mark":{"type":"text","font":"Liberation Serif","fontSize":14},"encoding":{"x":{"datum":116},"y":{"datum":152},"text":{"field":"t"}}}
]},
{"width":153,"height":168,"layer":[
{"data":{"name":"C"},"mark":{"type":"point","filled":false,"size":34,"strokeWidth":1.1},"encoding":{
"x":{"field":"x","type":"quantitative","scale":{"domain":[100,220],"nice":false},"axis":{"values":[100,140,180,220],"tickCount":10,"title":null,"labelOverlap":false}},
"y":{"field":"y","type":"quantitative","scale":{"domain":[100,220],"nice":false},"axis":{"values":[100,140,180,220],"tickCount":10,"title":null,"minExtent":37,"labelOverlap":false}},
"color":{"field":"s","type":"nominal","scale":{"domain":["a","b"],"range":["#B8232A","#2DB36B"]},"legend":null},
"shape":{"field":"s","type":"nominal","scale":{"domain":["a","b"],"range":["triangle-up","M-1,-1L1,1M1,-1L-1,1"]},"legend":null}}},
{"data":{"name":"L"},"transform":[{"filter":"datum.p == 'C'"}],"mark":{"type":"rule","color":"#000"},"encoding":{"x":{"field":"x","type":"quantitative"},"y":{"field":"y","type":"quantitative"},"x2":{"field":"x2"},"y2":{"field":"y2"},"strokeWidth":{"field":"w","type":"quantitative","scale":null,"legend":null}}},
{"data":{"values":[{"t":"C"}]},"mark":{"type":"text","font":"Liberation Sans","fontSize":15},"encoding":{"x":{"datum":126},"y":{"datum":203},"text":{"field":"t"}}},
{"data":{"values":[{"t":"r² = 0.86"}]},"mark":{"type":"text","font":"Liberation Serif","fontSize":14},"encoding":{"x":{"datum":190},"y":{"datum":215},"text":{"field":"t"}}}
]}
],"spacing":26,"resolve":{"scale":{"x":"independent","y":"independent","color":"independent","shape":"independent"},"legend":{"color":"independent","shape":"independent"}}},
{"hconcat":[
{"width":140,"height":150,"layer":[
{"data":{"name":"E"},"mark":{"type":"point","filled":false,"size":34,"strokeWidth":1.1},"encoding":{
"x":{"field":"x","type":"quantitative","scale":{"domain":[0,160],"nice":false},"axis":{"values":[0,40,80,120,160],"tickCount":10,"title":["Observed value (DOY)","Joining"],"labelOverlap":false}},
"y":{"field":"y","type":"quantitative","scale":{"domain":[0,160],"nice":false},"axis":{"values":[0,40,80,120,160],"tickCount":10,"title":["CERES","Simulated value (DOY)"],"labelOverlap":false}},
"color":{"field":"s","type":"nominal","scale":{"domain":["a","b"],"range":["#B8232A","#2DB36B"]},"legend":null},
"shape":{"field":"s","type":"nominal","scale":{"domain":["a","b"],"range":["triangle-up","M-1,-1L1,1M1,-1L-1,1"]},"legend":null}}},
{"data":{"name":"L"},"transform":[{"filter":"datum.p == 'E'"}],"mark":{"type":"rule","color":"#000"},"encoding":{"x":{"field":"x","type":"quantitative"},"y":{"field":"y","type":"quantitative"},"x2":{"field":"x2"},"y2":{"field":"y2"},"strokeWidth":{"field":"w","type":"quantitative","scale":null,"legend":null}}},
{"data":{"values":[{"t":"E"}]},"mark":{"type":"text","font":"Liberation Sans","fontSize":15},"encoding":{"x":{"datum":35},"y":{"datum":133},"text":{"field":"t"}}},
{"data":{"values":[{"t":"r² = 0.87"}]},"mark":{"type":"text","font":"Liberation Serif","fontSize":14},"encoding":{"x":{"datum":114},"y":{"datum":151},"text":{"field":"t"}}}
]},
{"width":159,"height":148,"layer":[
{"data":{"name":"F"},"mark":{"type":"point","filled":false,"size":34,"strokeWidth":1.1},"encoding":{
"x":{"field":"x","type":"quantitative","scale":{"domain":[40,160],"nice":false},"axis":{"values":[40,80,120,160],"tickCount":10,"title":["Observed value (DOY)","Heading"],"labelOverlap":false}},
"y":{"field":"y","type":"quantitative","scale":{"domain":[40,160],"nice":false},"axis":{"values":[40,80,120,160],"tickCount":10,"title":null,"labelOverlap":false}},
"color":{"field":"s","type":"nominal","scale":{"domain":["a","b"],"range":["#B8232A","#2DB36B"]},"legend":null},
"shape":{"field":"s","type":"nominal","scale":{"domain":["a","b"],"range":["triangle-up","M-1,-1L1,1M1,-1L-1,1"]},"legend":null}}},
{"data":{"name":"L"},"transform":[{"filter":"datum.p == 'F'"}],"mark":{"type":"rule","color":"#000"},"encoding":{"x":{"field":"x","type":"quantitative"},"y":{"field":"y","type":"quantitative"},"x2":{"field":"x2"},"y2":{"field":"y2"},"strokeWidth":{"field":"w","type":"quantitative","scale":null,"legend":null}}},
{"data":{"values":[{"t":"F"}]},"mark":{"type":"text","font":"Liberation Sans","fontSize":15},"encoding":{"x":{"datum":62},"y":{"datum":143},"text":{"field":"t"}}},
{"data":{"values":[{"t":"r² = 0.85"}]},"mark":{"type":"text","font":"Liberation Serif","fontSize":14},"encoding":{"x":{"datum":123},"y":{"datum":158},"text":{"field":"t"}}}
]},
{"width":167,"height":148,"layer":[
{"data":{"name":"G"},"mark":{"type":"point","filled":false,"size":34,"strokeWidth":1.1},"encoding":{
"x":{"field":"x","type":"quantitative","scale":{"domain":[100,220],"nice":false},"axis":{"values":[100,140,180,220],"tickCount":10,"title":["Observed value (DOY)","Maturity"],"labelOverlap":false}},
"y":{"field":"y","type":"quantitative","scale":{"domain":[100,220],"nice":false},"axis":{"values":[100,140,180,220],"tickCount":10,"title":null,"labelOverlap":false}},
"color":{"field":"s","type":"nominal","scale":{"domain":["a","b"],"range":["#B8232A","#2DB36B"]},"legend":null},
"shape":{"field":"s","type":"nominal","scale":{"domain":["a","b"],"range":["triangle-up","M-1,-1L1,1M1,-1L-1,1"]},"legend":null}}},
{"data":{"name":"L"},"transform":[{"filter":"datum.p == 'G'"}],"mark":{"type":"rule","color":"#000"},"encoding":{"x":{"field":"x","type":"quantitative"},"y":{"field":"y","type":"quantitative"},"x2":{"field":"x2"},"y2":{"field":"y2"},"strokeWidth":{"field":"w","type":"quantitative","scale":null,"legend":null}}},
{"data":{"values":[{"t":"G"}]},"mark":{"type":"text","font":"Liberation Sans","fontSize":15},"encoding":{"x":{"datum":120},"y":{"datum":204},"text":{"field":"t"}}},
{"data":{"values":[{"t":"r² = 0.82"}]},"mark":{"type":"text","font":"Liberation Serif","fontSize":14},"encoding":{"x":{"datum":184},"y":{"datum":211},"text":{"field":"t"}}}
]}
],"spacing":22,"resolve":{"scale":{"x":"independent","y":"independent","color":"independent","shape":"independent"},"legend":{"color":"independent","shape":"independent"}}}
],
"spacing":13,
"resolve":{"scale":{"x":"independent","y":"independent","color":"independent","shape":"independent"},"legend":{"color":"independent","shape":"independent"}},
"config":{
"view":{"stroke":null},
"axis":{"grid":false,"domainColor":"#000","tickColor":"#000","labelColor":"#000","labelFont":"Liberation Serif","labelFontSize":13,"titleFont":"Liberation Serif","titleFontSize":14,"titleFontWeight":"bold","titleColor":"#000","tickSize":4,"labelPadding":3,"labelFlush":false,"labelOverlap":false,"titleLineHeight":17}
}
}
